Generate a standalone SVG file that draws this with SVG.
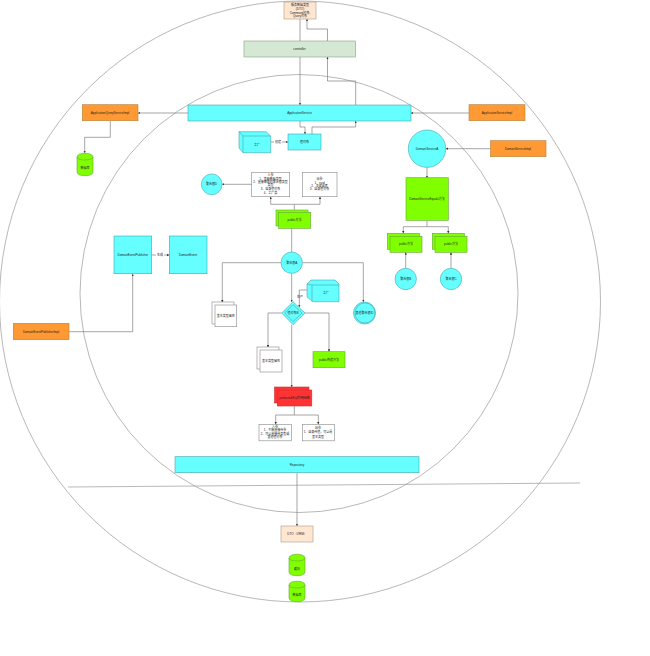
<svg xmlns="http://www.w3.org/2000/svg" width="650" height="656" viewBox="0 0 650 656">
<style>
text{font-family:"Liberation Sans","Noto Sans CJK SC",sans-serif;font-size:3px;fill:#222;text-anchor:middle;dominant-baseline:central}
.c{fill:#66ffff;stroke:#45a5b0;stroke-width:.6}
.g{fill:#80ff00;stroke:#66a83a;stroke-width:.6}
.o{fill:#ff9933;stroke:#b5803f;stroke-width:.6}
.p{fill:#ffe6d0;stroke:#b09a85;stroke-width:.6}
.w{fill:#fff;stroke:#888;stroke-width:.6}
.r{fill:#ff3333;stroke:#c33;stroke-width:.6}
.big{fill:none;stroke:#999;stroke-width:.7}
#connectors path{fill:none;stroke:#808080;stroke-width:.7}
.a{marker-end:url(#m)}
</style>
<defs><marker id="m" markerUnits="userSpaceOnUse" markerWidth="3" markerHeight="3" refX="2.400" refY="1.200" orient="auto"><path d="M0 0L2.400 1.200L0 2.400z" fill="#333"/></marker></defs>
<g id="boundaries">
<circle class="big" cx="300" cy="301.500" r="300.500"/>
<circle class="big" cx="299" cy="293.500" r="219"/>
<path class="big" d="M68 487L580 483"/>
</g>
<g id="connectors">
<path class="a" d="M300 19V105"/>
<path class="a" d="M327.500 41V29H307V19"/>
<path class="a" d="M355.700 105V81H327.500V57"/>
<path class="a" d="M300 121V127H305V134"/>
<path class="a" d="M312 134V127H355.700V121"/>
<path class="a" d="M271 142H288"/>
<path class="a" d="M188 113H138"/>
<path class="a" d="M469 113H411"/>
<path class="a" d="M110.300 121V137.300H84.700V153"/>
<path class="a" d="M490.500 148.700H445.700"/>
<path class="a" d="M427 167.400V178"/>
<path class="a" d="M427 220.300V226.700H403.300V233.300"/>
<path class="a" d="M427 226.700H448.300V233.300"/>
<path class="a" d="M405.700 268.300V252.300"/>
<path class="a" d="M451 268.300V252.300"/>
<path class="a" d="M252 184.300H222"/>
<path class="a" d="M294.300 210V204.300H270.700V196.700"/>
<path class="a" d="M294.300 204.300H320V196.700"/>
<path d="M291.700 228.300V252"/>
<path class="a" d="M291.700 273.400V302"/>
<path class="a" d="M281 262.700H222.300V302.500"/>
<path class="a" d="M302.400 262.700H363.300V302"/>
<path class="a" d="M307 290H299.300V307"/>
<path class="a" d="M281.700 313H268V347.500"/>
<path class="a" d="M305 313H329V351.700"/>
<path class="a" d="M291.700 324.700V387"/>
<path class="a" d="M294.300 406V415H275.700V424.300"/>
<path class="a" d="M294.300 415H318.300V424.300"/>
<path class="a" d="M297 472.700V526"/>
<path class="a" d="M69 331.700H132.700V274"/>
<path class="a" d="M151.700 255H169.300"/>
</g>
<g id="dto"><rect class="p" x="284" y="2" width="32" height="17"/><text x="300" y="5">服务数据类型</text><text x="300" y="8.800">(DTO)</text><text x="300" y="12.500">Command对象,</text><text x="300" y="16">Query对象</text></g>
<g id="controller"><rect x="244" y="41" width="111.500" height="16" fill="#d5e8d4" stroke="#82a37f" stroke-width=".6"/><text x="299.500" y="49">controller</text></g>
<g id="applicationService"><rect class="c" x="188" y="105" width="223" height="16"/><text x="299.500" y="113">ApplicationService</text></g>
<g id="appQueryImpl"><rect class="o" x="82.300" y="104.700" width="55.700" height="16"/><text x="110" y="113">ApplicationQueryServiceImpl</text></g>
<g id="appImpl"><rect class="o" x="469" y="104.700" width="56" height="16"/><text x="497" y="113">ApplicationServiceImpl</text></g>
<g id="db1"><path class="g" d="M77 157C77 152 93 152 93 157V172C93 177 77 177 77 172Z"/><path d="M77 157C77 161 93 161 93 157" fill="none" stroke="#66a83a" stroke-width=".6"/><text x="85" y="168">数据库</text></g>
<g id="cube1"><path class="c" d="M239 131.700H266L270.700 136V152.700H243L239 148Z"/><path d="M243 136H270.700M243 136V152.700M239 131.700L243 136" fill="none" stroke="#45a5b0" stroke-width=".6"/><text x="257" y="144.500">工厂</text></g>
<g id="label1"><rect x="274" y="140" width="8" height="4" fill="#fff"/><text x="278" y="142">创建</text></g>
<g id="repoNode"><rect class="c" x="288" y="134" width="33" height="16"/><text x="304.500" y="142">值对象</text></g>
<g id="domainServiceA"><circle class="c" cx="427" cy="148.700" r="18.700"/><text x="427" y="148.700">DomainServiceA</text></g>
<g id="domainServiceImpl"><rect class="o" x="490.500" y="140.700" width="55.500" height="16"/><text x="518" y="148.700">DomainServiceImpl</text></g>
<g id="domainServiceEq"><rect class="g" x="406" y="177.700" width="42.300" height="42.600"/><text x="427" y="199">DomainServiceEquals方法</text></g>
<g id="public1"><rect class="g" x="387.300" y="233.300" width="32" height="16"/><rect class="g" x="390" y="236.300" width="32" height="16"/><text x="406" y="244.300">public方法</text></g>
<g id="public2"><rect class="g" x="432.300" y="233.300" width="32" height="16"/><rect class="g" x="435" y="236.300" width="32" height="16"/><text x="451" y="244.300">public方法</text></g>
<g id="rootB"><circle class="c" cx="405.700" cy="279" r="10.700"/><text x="405.700" y="279">聚合根B</text></g>
<g id="rootC"><circle class="c" cx="451" cy="279" r="10.700"/><text x="451" y="279">聚合根C</text></g>
<g id="rootD"><circle class="c" cx="211.700" cy="184.300" r="10.400"/><text x="211.700" y="184.300">聚合根D</text></g>
<g id="inParam"><rect class="w" x="251.700" y="172.300" width="38" height="24.400"/><text x="270.500" y="175.300">入参</text><text x="270.500" y="178.500">1、基础数据类型</text><text x="270.500" y="181.800">2、直接懒聚的聚合根类型</text><text x="270.500" y="185.300">类型</text><text x="270.500" y="189.300">3、自身值对象</text><text x="270.500" y="193.200">4、工厂类</text></g>
<g id="outParam"><rect class="w" x="302.300" y="172.300" width="34.700" height="24.400"/><text x="319.500" y="179">出参</text><text x="319.500" y="182.600">1、void</text><text x="319.500" y="185.800">2、主键或者</text><text x="319.500" y="189.300">3、自身值对象</text></g>
<g id="publicA"><rect class="g" x="276" y="210" width="32" height="16"/><rect class="g" x="278.500" y="212.300" width="32.200" height="16"/><text x="294.500" y="220.300">public方法</text></g>
<g id="rootA"><circle class="c" cx="291.700" cy="262.700" r="10.700"/><text x="291.700" y="262.700">聚合根A</text></g>
<g id="publisher"><rect class="c" x="114" y="236" width="37.700" height="37.700"/><text x="132.800" y="255">DomainEventPublisher</text></g>
<g id="event"><rect class="c" x="169.300" y="236" width="37.700" height="37.700"/><text x="188" y="255">DomainEvent</text></g>
<g id="label2"><rect x="156" y="253" width="8" height="4" fill="#fff"/><text x="160" y="255">生成</text></g>
<g id="publisherImpl"><rect class="o" x="13.300" y="323.300" width="55.700" height="16.400"/><text x="41" y="331.700">DomainEventPublisherImpl</text></g>
<g id="basic1"><rect class="w" x="212" y="302" width="22" height="22"/><rect class="w" x="215" y="305" width="21.700" height="21.700"/><text x="225.800" y="316">基本类型属性</text></g>
<g id="valueDiamond"><path d="M293 301.700L305 313L293 324.700L281.700 313Z" class="c"/><path d="M293 304.700L302 313L293 321.700L284.700 313Z" class="c"/><text x="293" y="313">值对象B</text></g>
<g id="label3"><text x="300" y="296.700">生产</text></g>
<g id="cube2"><path class="c" d="M307 284L311 280H335L339 284V301.700H313L307 297Z"/><path d="M312 285H339M312 285V301.700M307 284L312 285" fill="none" stroke="#45a5b0" stroke-width=".6"/><text x="326" y="293">工厂</text></g>
<g id="domainCall"><circle class="c" cx="364.500" cy="313" r="11"/><circle cx="365" cy="313" r="10" fill="none" stroke="#45a5b0" stroke-width=".6"/><text x="364.500" y="313">其他聚合根ID</text></g>
<g id="basic2"><rect class="w" x="257" y="347" width="22" height="22"/><rect class="w" x="260" y="350" width="22" height="22"/><text x="271" y="361">基本类型属性</text></g>
<g id="publicB"><rect class="g" x="313" y="351.700" width="32" height="16"/><text x="329" y="359.700">public构造方法</text></g>
<g id="protectedNode"><rect class="r" x="274.500" y="387" width="34.500" height="16"/><rect class="r" x="277.300" y="390" width="34.500" height="16"/><text x="294.500" y="398">protected无副作用函数</text></g>
<g id="inParam2"><rect class="w" x="259" y="424.300" width="32.300" height="16.500"/><text x="275" y="427.300">入参</text><text x="275" y="430.200">1、不能直接传参</text><text x="275" y="433.700">2、可以直接传类型或</text><text x="275" y="437.300">其他值对象</text></g>
<g id="outParam2"><rect class="w" x="302.300" y="424.300" width="32" height="16.500"/><text x="318" y="428.300">出参</text><text x="318" y="432.300">1、自身传值，可以是</text><text x="318" y="436.700">基本类型</text></g>
<g id="repository"><rect class="c" x="175" y="456.700" width="244" height="16"/><text x="297" y="464.700">Repository</text></g>
<g id="dtoOrm"><rect class="p" x="281" y="526" width="32" height="16"/><text x="297" y="534">DTO（ORM）</text></g>
<g id="cache"><path class="g" d="M289 558C289 553 305 553 305 558V572C305 577 289 577 289 572Z"/><path d="M289 558C289 562 305 562 305 558" fill="none" stroke="#66a83a" stroke-width=".6"/><text x="297" y="568.500">缓存</text></g>
<g id="db2"><path class="g" d="M289 585C289 580 305 580 305 585V598C305 603 289 603 289 598Z"/><path d="M289 585C289 589 305 589 305 585" fill="none" stroke="#66a83a" stroke-width=".6"/><text x="297" y="595">数据库</text></g>
</svg>
